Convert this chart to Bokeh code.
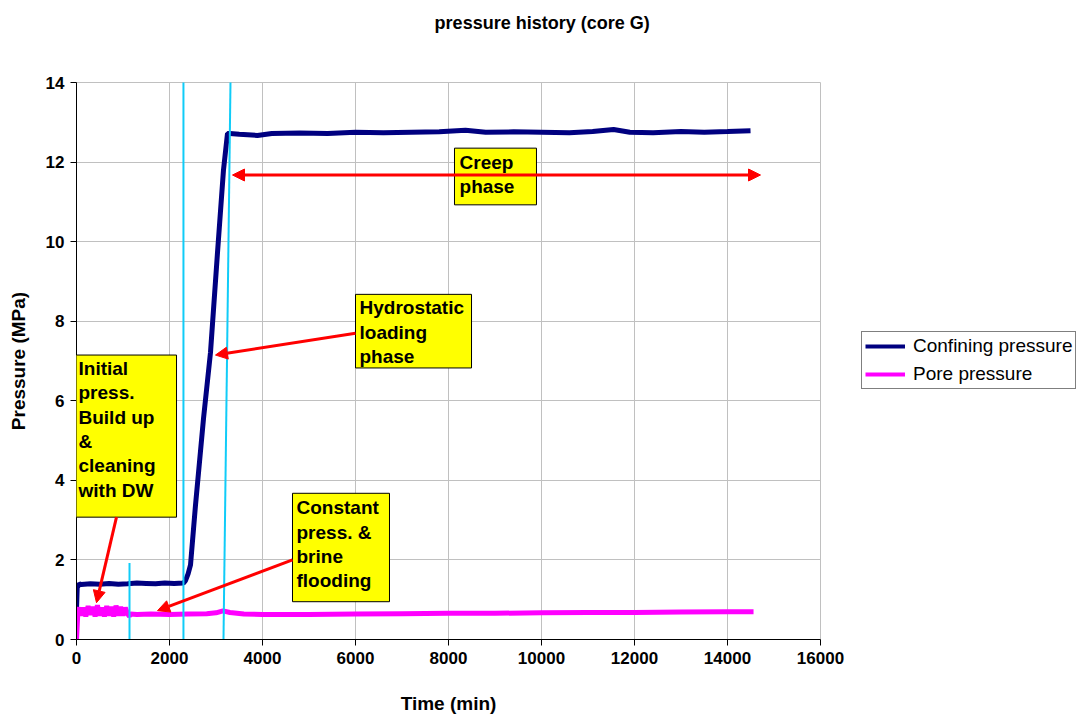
from bokeh.plotting import figure
from bokeh.models import (Legend, LegendItem, Label, BoxAnnotation, Arrow, NormalHead,
                          FixedTicker, Range1d)
from bokeh.layouts import row, column
from bokeh.embed import file_html
from bokeh.resources import INLINE

# ---------------- data ----------------
conf_t = [0, 15, 60, 100, 300, 500, 700, 900, 1100, 1300, 1500, 1700, 1900, 2100, 2300,
          2344, 2400, 2452, 2559, 2731, 2882, 3032, 3161, 3247, 3300, 3500, 3890, 4200,
          4800, 5400, 6000, 6600, 7200, 7800, 8365, 8800, 9400, 10000, 10600, 11100,
          11550, 11900, 12400, 13000, 13500, 14000, 14495]
conf_p = [0.75, 1.3, 1.4, 1.38, 1.4, 1.39, 1.41, 1.39, 1.4, 1.42, 1.41, 1.4, 1.42, 1.41, 1.42,
          1.48, 1.65, 1.875, 3.375, 5.55, 7.22, 9.72, 11.8, 12.72, 12.72, 12.7, 12.67, 12.72,
          12.73, 12.72, 12.75, 12.74, 12.75, 12.76, 12.8, 12.75, 12.76, 12.75, 12.74, 12.77,
          12.82, 12.75, 12.74, 12.77, 12.75, 12.77, 12.79]

pore_t = [0, 30, 60, 100, 150, 200, 250, 300, 350, 400, 450, 500, 550, 600, 650, 700, 750,
          800, 850, 900, 950, 1000, 1050, 1100, 1140, 1160, 1300, 1600, 2000, 2400, 2800,
          3000, 3150, 3300, 3600, 4000, 5000, 6000, 7000, 8000, 9000, 10000, 11000, 12000,
          13000, 14000, 14560]
pore_p = [0, 0.7, 0.8, 0.6, 0.8, 0.58, 0.84, 0.62, 0.82, 0.58, 0.86, 0.6, 0.8, 0.58, 0.84,
          0.6, 0.82, 0.58, 0.85, 0.6, 0.82, 0.6, 0.8, 0.64, 0.58, 0.64, 0.63, 0.64, 0.63,
          0.64, 0.65, 0.67, 0.72, 0.68, 0.64, 0.63, 0.63, 0.64, 0.65, 0.66, 0.66, 0.67, 0.68,
          0.68, 0.69, 0.7, 0.7]

# phase separator lines (cyan)
sep_x0 = [1140, 2300, 3161]
sep_y0 = [0, 0, 0]
sep_x1 = [1140, 2300, 3312]
sep_y1 = [1.92, 14.05, 14.05]

x_ticks = [0, 2000, 4000, 6000, 8000, 10000, 12000, 14000, 16000]
y_ticks = [0, 2, 4, 6, 8, 10, 12, 14]

series_names = ["Confining pressure", "Pore pressure"]
series_colors = ["#000080", "#FF00FF"]
title_text = "pressure history (core G)"

FONT = "Liberation Sans"

# ---------------- title strip ----------------
pt = figure(width=850, height=44, output_backend="svg", toolbar_location=None,
            x_range=Range1d(0, 850), y_range=Range1d(0, 44),
            min_border_left=0, min_border_right=0, min_border_top=0, min_border_bottom=0)
pt.axis.visible = False
pt.grid.visible = False
pt.outline_line_color = None
pt.add_layout(Label(x=532, y=22, text=title_text, text_font=FONT, text_font_style="bold",
                    text_font_size="18px", text_align="center", text_baseline="middle",
                    text_color="black"))

# ---------------- main plot ----------------
p = figure(width=850, height=672, output_backend="svg", toolbar_location=None,
           x_range=Range1d(0, 16000), y_range=Range1d(0, 14),
           min_border_left=76, min_border_right=30, min_border_top=38, min_border_bottom=74)

p.outline_line_color = "#c0c0c0"
p.background_fill_color = "white"
p.border_fill_color = "white"

p.xaxis.ticker = FixedTicker(ticks=x_ticks)
p.yaxis.ticker = FixedTicker(ticks=y_ticks)
for ax in (p.xaxis[0], p.yaxis[0]):
    ax.axis_line_color = "black"
    ax.major_tick_line_color = "black"
    ax.minor_tick_line_color = None
    ax.major_tick_in = 0
    ax.major_tick_out = 6
    ax.major_label_text_font = FONT
    ax.major_label_text_font_style = "bold"
    ax.major_label_text_font_size = "17px"
    ax.major_label_text_color = "black"
    ax.axis_label_text_font = FONT
    ax.axis_label_text_font_style = "bold"
    ax.axis_label_text_font_size = "19px"
    ax.axis_label_text_color = "black"
p.xaxis.axis_label = "Time (min)"
p.yaxis.axis_label = "Pressure (MPa)"
p.xaxis.axis_label_standoff = 26
p.yaxis.axis_label_standoff = 14
p.xaxis.major_label_standoff = 6
p.yaxis.major_label_standoff = 6

p.xgrid.grid_line_color = "#c0c0c0"
p.ygrid.grid_line_color = "#c0c0c0"

p.line(conf_t, conf_p, line_color=series_colors[0], line_width=5)
p.line(pore_t, pore_p, line_color=series_colors[1], line_width=5)

p.segment(sep_x0, sep_y0, sep_x1, sep_y1, line_color="#10CCF8", line_width=2)

# annotation boxes
boxes = [(-43, 2151, 7.15, 3.075), (6000, 8495, 8.675, 6.825),
         (8129, 9892, 12.35, 10.925), (4645, 6731, 3.675, 0.95)]
for l, r, t, b in boxes:
    p.add_layout(BoxAnnotation(left=l, right=r, top=t, bottom=b, fill_color="yellow",
                               fill_alpha=1, line_color="black", line_width=1,
                               line_alpha=1))

texts = [(43, 7.075, "Initial\npress.\nBuild up\n&\ncleaning\nwith DW"),
         (6086, 8.6, "Hydrostatic\nloading\nphase"),
         (8237, 12.25, "Creep\nphase"),
         (4731, 3.575, "Constant\npress. &\nbrine\nflooding")]
for x, y, t in texts:
    p.add_layout(Label(x=x, y=y, text=t, text_font=FONT, text_font_style="bold",
                       text_font_size="19px", text_baseline="top", text_align="left",
                       text_line_height=1.16, text_color="black"))

# arrows
def head():
    return NormalHead(size=12, fill_color="red", line_color="red")

arrows = [(860, 3.075, 430, 0.925, False), (4645, 2.0, 1742, 0.725, False),
          (6000, 7.7, 2989, 7.15, False), (3355, 11.675, 14710, 11.675, True)]
for xs, ys, xe, ye, both in arrows:
    p.add_layout(Arrow(x_start=xs, y_start=ys, x_end=xe, y_end=ye, line_color="red",
                       line_width=3, end=head(), start=head() if both else None))

# ---------------- legend panel (same data drawn out of view) ----------------
pl = figure(width=233, height=716, output_backend="svg", toolbar_location=None,
            x_range=Range1d(-40000, -30000), y_range=Range1d(0, 14),
            min_border_left=0, min_border_right=0, min_border_top=0, min_border_bottom=0)
pl.axis.visible = False
pl.grid.visible = False
pl.outline_line_color = None
lc = pl.line(conf_t, conf_p, line_color=series_colors[0], line_width=4)
lp = pl.line(pore_t, pore_p, line_color=series_colors[1], line_width=4)
legend = Legend(items=[LegendItem(label=series_names[0], renderers=[lc]),
                       LegendItem(label=series_names[1], renderers=[lp])],
                location=(11, 327))
legend.label_text_font = FONT
legend.label_text_font_size = "19px"
legend.label_text_color = "black"
legend.border_line_color = "black"
legend.border_line_width = 1
legend.glyph_width = 40
legend.glyph_height = 22
legend.label_height = 22
legend.label_standoff = 8
legend.padding = 3
legend.spacing = 6
legend.margin = 0
legend.background_fill_alpha = 1
pl.add_layout(legend, "center")

layout = row(column(pt, p), pl)
open("out.html", "w").write(file_html(layout, INLINE))
